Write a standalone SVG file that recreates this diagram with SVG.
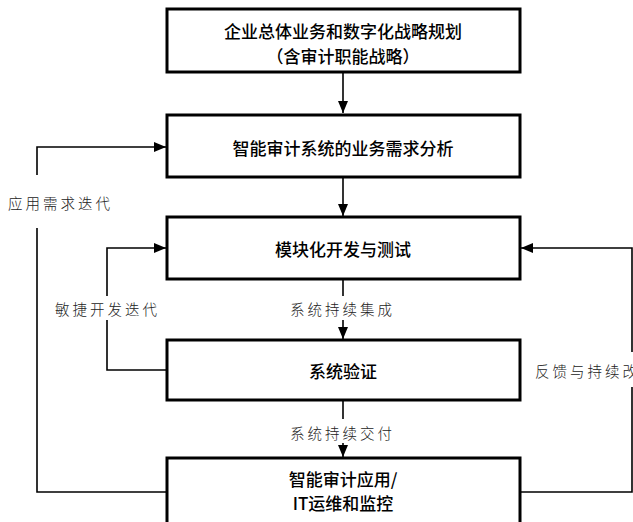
<svg xmlns="http://www.w3.org/2000/svg" width="633" height="522" viewBox="0 0 633 522">
<style>
.box{fill:#fff;stroke:#000;stroke-width:3}
.t{font-family:"Noto Sans CJK SC","Liberation Sans",sans-serif;font-size:17px;font-weight:500;text-anchor:middle;dominant-baseline:central;fill:#000}
.l{font-family:"Noto Sans CJK SC","Liberation Sans",sans-serif;font-size:14.5px;font-weight:300;letter-spacing:3px;dominant-baseline:central;fill:#222}
.c{fill:none;stroke:#000;stroke-width:1.6}
</style>
<defs>
<marker id="ah" markerWidth="12" markerHeight="10" refX="12" refY="5" orient="auto" markerUnits="userSpaceOnUse">
<path d="M0,0 L12,5 L0,10 Z" fill="#000"/>
</marker>
</defs>
<rect width="633" height="522" fill="#fff"/>
<g id="connectors">
<line class="c" x1="343" y1="72" x2="343" y2="113" marker-end="url(#ah)"/>
<line class="c" x1="343" y1="177" x2="343" y2="216" marker-end="url(#ah)"/>
<line class="c" x1="343" y1="279" x2="343" y2="296"/>
<line class="c" x1="343" y1="320" x2="343" y2="339" marker-end="url(#ah)"/>
<line class="c" x1="343" y1="400" x2="343" y2="419"/>
<line class="c" x1="343" y1="443" x2="343" y2="457" marker-end="url(#ah)"/>
<polyline class="c" points="167,492 37,492 37,228"/>
<polyline class="c" points="37,175 37,147 166,147" marker-end="url(#ah)"/>
<polyline class="c" points="167,370 107,370 107,320"/>
<polyline class="c" points="107,296 107,248 166,248" marker-end="url(#ah)"/>
<polyline class="c" points="520,492 632,492 632,387"/>
<polyline class="c" points="632,352 632,248 521,248" marker-end="url(#ah)"/>
<text class="l" x="8" y="202">应用需求迭代</text>
<text class="l" x="55" y="308">敏捷开发迭代</text>
<text class="l" x="290" y="308">系统持续集成</text>
<text class="l" x="290" y="432">系统持续交付</text>
<text class="l" x="535" y="370">反馈与持续改进</text>
</g>
<g id="n1">
<rect class="box" x="167" y="9" width="353" height="63"/>
<text class="t" x="343" y="30">企业总体业务和数字化战略规划</text>
<text class="t" x="343" y="55">（含审计职能战略）</text>
</g>
<g id="n2">
<rect class="box" x="167" y="115" width="353" height="62"/>
<text class="t" x="343" y="147">智能审计系统的业务需求分析</text>
</g>
<g id="n3">
<rect class="box" x="167" y="217" width="353" height="62"/>
<text class="t" x="343" y="248">模块化开发与测试</text>
</g>
<g id="n4">
<rect class="box" x="167" y="340" width="353" height="60"/>
<text class="t" x="343" y="370">系统验证</text>
</g>
<g id="n5">
<rect class="box" x="167" y="458" width="353" height="72"/>
<text class="t" x="343" y="478">智能审计应用/</text>
<text class="t" x="343" y="502">IT运维和监控</text>
</g>
</svg>
